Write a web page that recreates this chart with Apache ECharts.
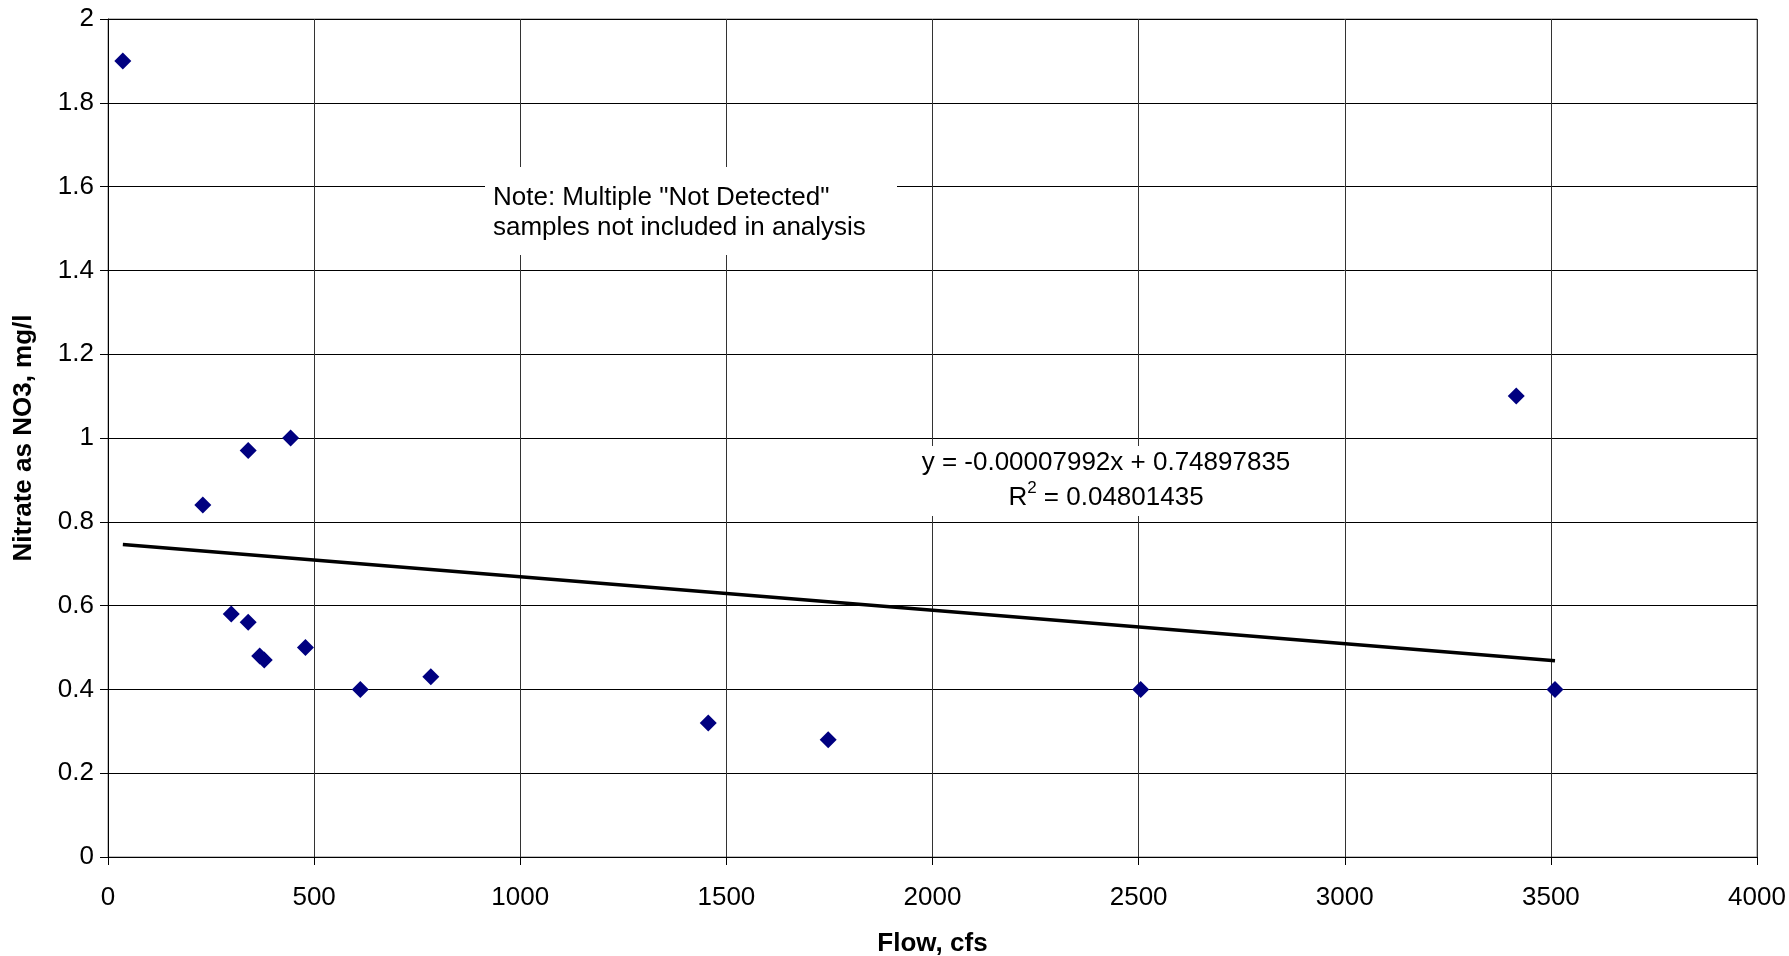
<!DOCTYPE html>
<html><head><meta charset="utf-8">
<script src="https://cdn.jsdelivr.net/npm/echarts@6/dist/echarts.min.js"></script>
<style>html,body{margin:0;padding:0;background:#fff;}#c{width:1789px;height:956px;}</style>
</head><body><div id="c"></div>
<script>
const flow    = [36, 230, 340, 443, 299, 340, 368, 379, 479, 612, 783, 1456, 1747, 2505, 3416, 3510];
const nitrate = [1.9, 0.84, 0.97, 1.0, 0.58, 0.56, 0.48, 0.47, 0.5, 0.4, 0.43, 0.32, 0.28, 0.4, 1.1, 0.4];
const slope = -0.00007992;
const intercept = 0.74897835;
const xTicks = [0, 500, 1000, 1500, 2000, 2500, 3000, 3500, 4000];
const yTicks = [0, 0.2, 0.4, 0.6, 0.8, 1, 1.2, 1.4, 1.6, 1.8, 2];
const xTitle = 'Flow, cfs';
const yTitle = 'Nitrate as NO3, mg/l';
const noteLines = ['Note: Multiple "Not Detected"', 'samples not included in analysis'];
const eqLine = 'y = -0.00007992x + 0.74897835';
const r2Value = '0.04801435';

const pts = flow.map((f, i) => [f, nitrate[i]]);
const xMin = Math.min(...flow), xMax = Math.max(...flow);
const trend = [[xMin, slope * xMin + intercept], [xMax, slope * xMax + intercept]];

const FONT = 'Liberation Sans, Arial, sans-serif';
const chart = echarts.init(document.getElementById('c'), null, {renderer: 'canvas'});
const G = {left: 108, top: 19, width: 1649, height: 838};
chart.setOption({
  animation: false,
  backgroundColor: '#fff',
  grid: {left: G.left, top: G.top, width: G.width, height: G.height, show: true, borderColor: '#808080', borderWidth: 1,
         containLabel: false, outerBoundsMode: 'none'},
  xAxis: {
    type: 'value', min: xTicks[0], max: xTicks[xTicks.length - 1], interval: 500,
    name: xTitle, nameLocation: 'middle', nameGap: 74,
    nameTextStyle: {fontFamily: FONT, fontSize: 26, fontWeight: 'bold', color: '#000'},
    axisLine: {show: true, onZero: false, lineStyle: {color: '#000', width: 1}},
    axisTick: {show: true, length: 8, lineStyle: {color: '#000'}},
    axisLabel: {fontFamily: FONT, fontSize: 26, color: '#000', margin: 28,
      formatter: v => String(v)},
    splitLine: {show: true, lineStyle: {color: '#333', width: 1}}
  },
  yAxis: {
    type: 'value', min: yTicks[0], max: yTicks[yTicks.length - 1], interval: 0.2,
    name: yTitle, nameLocation: 'middle', nameGap: 71, nameRotate: 90,
    nameTextStyle: {fontFamily: FONT, fontSize: 26, fontWeight: 'bold', color: '#000'},
    axisLine: {show: true, onZero: false, lineStyle: {color: '#000', width: 1}},
    axisTick: {show: true, length: 8, lineStyle: {color: '#000'}},
    axisLabel: {fontFamily: FONT, fontSize: 26, color: '#000', margin: 14,
      formatter: v => String(Math.round(v * 10) / 10)},
    splitLine: {show: true, lineStyle: {color: '#000', width: 1}}
  },
  series: [
    {type: 'line', data: trend, symbol: 'none', lineStyle: {color: '#000', width: 3.5}, silent: true, z: 3},
    {type: 'scatter', data: pts, symbol: 'diamond', symbolSize: [17, 17], itemStyle: {color: '#000080', opacity: 1}, z: 4}
  ],
  graphic: [
    {type: 'rect', shape: {x: 485, y: 167, width: 412, height: 88}, style: {fill: '#fff'}, z: 10},
    {type: 'text', x: 493, y: 183, style: {text: noteLines.join('\n'), font: '26px ' + FONT, fill: '#000', lineHeight: 30}, z: 11},
    {type: 'rect', shape: {x: 918, y: 446, width: 378, height: 70}, style: {fill: '#fff'}, z: 10},
    {type: 'text', x: 1106, y: 445, style: {
      text: eqLine + '\nR{sup|2} = ' + r2Value, align: 'center', font: '26px ' + FONT, fill: '#000', lineHeight: 35,
      rich: {sup: {fontSize: 17, fontFamily: FONT, verticalAlign: 'top', lineHeight: 22, padding: [0, 0, 0, 0]}}
    }, z: 11}
  ]
});
</script></body></html>
